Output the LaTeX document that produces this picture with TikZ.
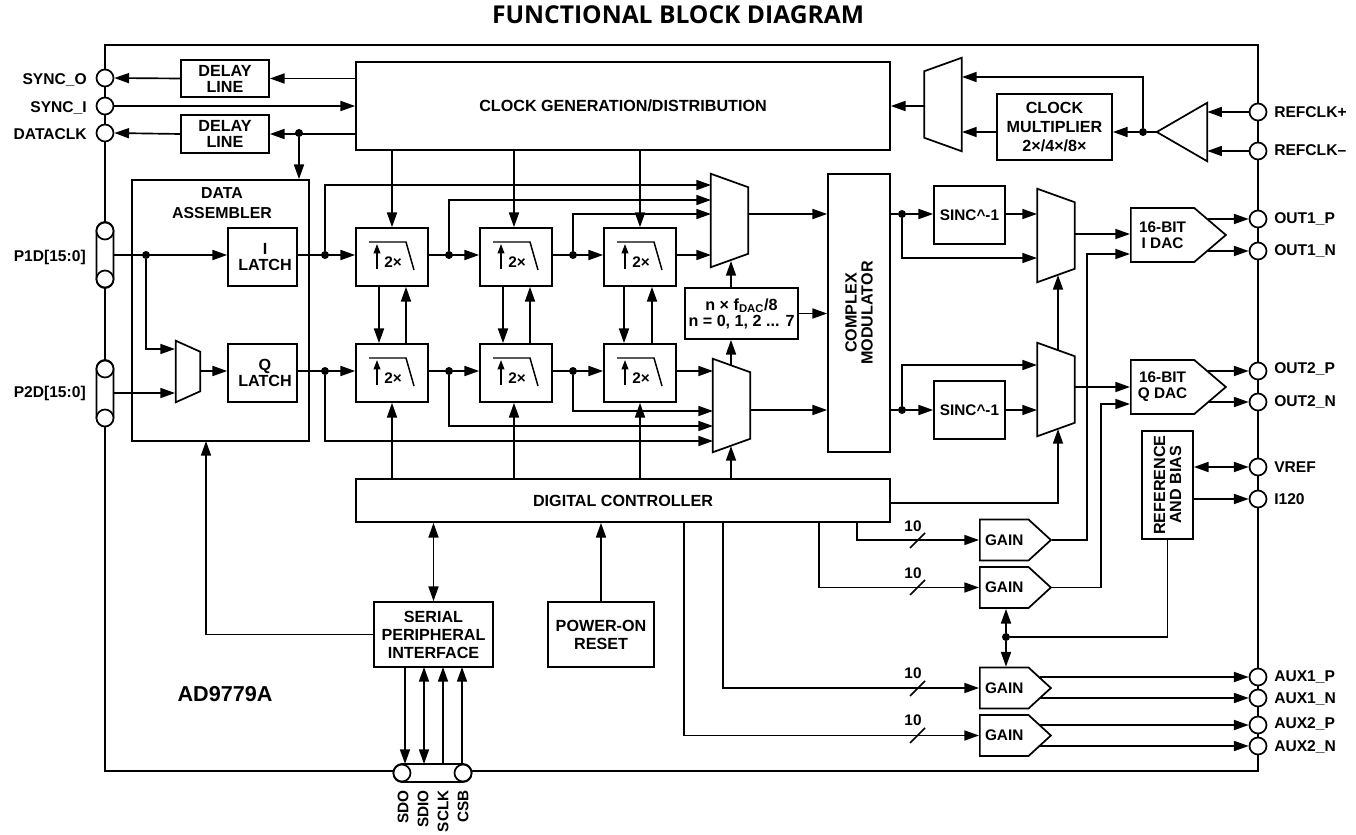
\documentclass[tikz,border=0pt]{standalone}
\usepackage{fontspec}
\setmainfont{Liberation Sans}
\newfontfamily\titlefont{Open Sans}
\usepackage{tikz}
\usetikzlibrary{arrows.meta, shapes.geometric, shapes.symbols, backgrounds}
\newlength{\px}
\setlength{\px}{0.75pt}
\newcommand{\muxshape}[3]{\draw[fill=white, line width=1.3pt] ([yshift=-#2\px]#1.north west) -- ([yshift=-#3\px]#1.north east) -- ([yshift=#3\px]#1.south east) -- ([yshift=#2\px]#1.south west) -- cycle;}
\newcommand{\lowpass}[1]{\begin{scope}[shift={(#1.center)}]
  \draw[line width=1.1pt] (-23,-15) -- (14,-15) -- (22,13);
  \draw[line width=1.1pt, ->, >={Stealth[inset=0pt,length=7pt,width=5pt]}] (-15,12) -- (-15,-13);
\end{scope}}
\newcommand{\twox}{\raisebox{-7.6pt}[0pt][0pt]{\hspace*{2\px}2×}}
\tikzset{
  blockbox/.style={draw, fill=white, line width=1.3pt, inner sep=0pt, align=center, font=\bfseries\fontsize{12.1}{12}\selectfont},
  portdot/.style={circle, draw, fill=white, line width=1.3pt, inner sep=0pt, minimum size=17\px},
  capsule/.style={draw, fill=white, line width=1.3pt, inner sep=0pt, rounded corners=8.5\px},
  junct/.style={circle, fill=black, inner sep=0pt, minimum size=8\px},
  portlbl/.style={inner sep=0pt, text height=8.3pt, text depth=0pt, font=\bfseries\fontsize{11.7}{12}\selectfont},
  muxbox/.style={inner sep=0pt, minimum width=37\px, minimum height=93\px},
  gainbox/.style={draw, fill=white, line width=1.3pt, signal, signal to=east, inner sep=0pt, anchor=west,
    signal pointer angle=85, minimum width=71\px, minimum height=41\px},
  dacbox/.style={gainbox, align=center, signal pointer angle=81, minimum width=95\px, minimum height=54\px},
  wire/.style={line width=1.25pt},
  filterbox/.style={blockbox, font=\bfseries\fontsize{11.5}{12}\selectfont, minimum width=72\px, minimum height=58\px},
}
\begin{document}
\begin{tikzpicture}[x=0.75pt, y=-0.75pt, >={Stealth[inset=0pt,length=11pt,width=7.5pt]},
                    font=\bfseries\fontsize{11.5}{12}\selectfont]
\useasboundingbox (0,0) rectangle (1356,835);
\node[font=\titlefont\bfseries\fontsize{18.45}{20}\selectfont] (title) at (678,15) {FUNCTIONAL BLOCK DIAGRAM};
\node[draw, line width=1.8pt, inner sep=0pt, minimum width=1153\px, minimum height=726\px] (chip) at (681.5,408) {};
\node[font=\bfseries\fontsize{16.2}{18}\selectfont] (partno) at (225,694) {AD9779A};

% left pins
\node[portdot] (syncO) at (105,78) {};
\node[portdot] (syncI) at (105,106) {};
\node[portdot] (dclk) at (105,133) {};
\node[capsule, minimum width=17\px, minimum height=66\px] (p1d) at (105,255) {};
\node[portdot] at (105,231) (p1dA) {};
\node[portdot] at (105,279) (p1dB) {};
\node[capsule, minimum width=17\px, minimum height=66\px] (p2d) at (105,393) {};
\node[portdot] at (105,369) (p2dA) {};
\node[portdot] at (105,418) (p2dB) {};
\node[portlbl, anchor=east] (syncOl) at (87,79) {SYNC\_O};
\node[portlbl, anchor=east] (syncIl) at (87,107) {SYNC\_I};
\node[portlbl, anchor=east] (dclkl) at (87,134) {DATACLK};
\node[portlbl, anchor=east] (p1dl) at (86,256) {P1D[15:0]};
\node[portlbl, anchor=east] (p2dl) at (86,392) {P2D[15:0]};

% right pins
\node[portdot] (refp) at (1258,112) {};
\node[portdot] (refn) at (1258,151) {};
\node[portdot] (out1p) at (1258,219) {};
\node[portdot] (out1n) at (1258,251) {};
\node[portdot] (out2p) at (1258,371) {};
\node[portdot] (out2n) at (1258,402) {};
\node[portdot] (vref) at (1258,467) {};
\node[portdot] (i120) at (1258,499) {};
\node[portdot] (aux1p) at (1258,677) {};
\node[portdot] (aux1n) at (1258,698) {};
\node[portdot] (aux2p) at (1258,725) {};
\node[portdot] (aux2n) at (1258,746) {};
\node[portlbl, anchor=west] (refpl) at (1274,112) {REFCLK+};
\node[portlbl, anchor=west] (refnl) at (1274,150) {REFCLK–};
\node[portlbl, anchor=west] (out1pl) at (1274,218) {OUT1\_P};
\node[portlbl, anchor=west] (out1nl) at (1274,250) {OUT1\_N};
\node[portlbl, anchor=west] (out2pl) at (1274,368) {OUT2\_P};
\node[portlbl, anchor=west] (out2nl) at (1274,401) {OUT2\_N};
\node[portlbl, anchor=west] (vrefl) at (1274,467) {VREF};
\node[portlbl, anchor=west] (i120l) at (1274,499) {I120};
\node[portlbl, anchor=west] (aux1pl) at (1274,676) {AUX1\_P};
\node[portlbl, anchor=west] (aux1nl) at (1274,698) {AUX1\_N};
\node[portlbl, anchor=west] (aux2pl) at (1274,723) {AUX2\_P};
\node[portlbl, anchor=west] (aux2nl) at (1274,746) {AUX2\_N};

% bottom pins
\node[capsule, minimum width=78\px, minimum height=18\px] (spipins) at (432.5,773) {};
\node[portdot] (sdoP) at (402,773) {};
\node[portdot] (csbP) at (463,773) {};
\node[rotate=90, anchor=east, inner sep=0pt] (sdol) at (403,790) {SDO};
\node[rotate=90, anchor=east, inner sep=0pt] (sdiol) at (423,790) {SDIO};
\node[rotate=90, anchor=east, inner sep=0pt] (sclkl) at (443,790) {SCLK};
\node[rotate=90, anchor=east, inner sep=0pt] (csbl) at (463,790) {CSB};

% blocks
\node[blockbox, minimum width=88\px, minimum height=37\px] (dl1) at (225,78.5) {DELAY\\LINE};
\node[blockbox, minimum width=88\px, minimum height=38\px] (dl2) at (225,134) {DELAY\\LINE};
\node[blockbox, minimum width=534\px, minimum height=88\px] (clkgen) at (623,106) {CLOCK GENERATION/DISTRIBUTION};
\node[blockbox, minimum width=115\px, minimum height=66\px] (clkmul) at (1054.5,127) {CLOCK\\[2pt]MULTIPLIER\\[2pt]2×/4×/8×};
\node[blockbox, minimum width=177\px, minimum height=261\px] (dasm) at (220.5,310.5) {};
\node[inner sep=0pt, align=center, font=\bfseries\fontsize{11.9}{12}\selectfont] (dasml) at (222,203) {DATA\\[3pt]ASSEMBLER};
\node[blockbox, minimum width=69\px, minimum height=58\px] (ilatch) at (262.5,257) {\hspace*{5\px}I\\\hspace*{5\px}LATCH};
\node[blockbox, minimum width=69\px, minimum height=58\px] (qlatch) at (262.5,373) {\hspace*{5\px}Q\\\hspace*{5\px}LATCH};
\node[filterbox] (flt11) at (392,257) {\twox};
\node[filterbox] (flt12) at (516,257) {\twox};
\node[filterbox] (flt13) at (640,257) {\twox};
\node[filterbox] (flt21) at (392,373) {\twox};
\node[filterbox] (flt22) at (516,373) {\twox};
\node[filterbox] (flt23) at (640,373) {\twox};
\lowpass{flt11}
\lowpass{flt12}
\lowpass{flt13}
\lowpass{flt21}
\lowpass{flt22}
\lowpass{flt23}
\node[blockbox, minimum width=113\px, minimum height=51\px] (nco) at (741.5,313.5) {n × f\textsubscript{DAC}/8\\n = 0, 1, 2 ... 7};
\node[blockbox, rotate=90, minimum width=278\px, minimum height=62\px] (cmod) at (859,313) {COMPLEX\\MODULATOR};
\node[blockbox, font=\bfseries\fontsize{11.5}{12}\selectfont, minimum width=71\px, minimum height=58\px] (sinc1) at (969.5,215) {SINC\textasciicircum-1};
\node[blockbox, font=\bfseries\fontsize{11.5}{12}\selectfont, minimum width=71\px, minimum height=58\px] (sinc2) at (969.5,410) {SINC\textasciicircum-1};
\node[blockbox, minimum width=534\px, minimum height=43\px] (digctl) at (623,500.5) {DIGITAL CONTROLLER};
\node[blockbox, minimum width=119\px, minimum height=65\px] (spi) at (433.5,634.5) {SERIAL\\[1.5pt]PERIPHERAL\\[1.5pt]INTERFACE};
\node[blockbox, minimum width=106\px, minimum height=65\px] (por) at (601,634.5) {POWER-ON\\[1.5pt]RESET};
\node[blockbox, rotate=90, minimum width=108\px, minimum height=51\px] (refbias) at (1167.5,485) {REFERENCE\\AND BIAS};

% muxes and the input buffer
\node[muxbox, minimum width=24\px, minimum height=61\px] (muxq) at (188,371.5) {};
\muxshape{muxq}{0}{11}
\node[muxbox] (mux1) at (729.5,220.5) {};
\muxshape{mux1}{0}{13.5}
\node[muxbox] (mux2) at (731.5,405.5) {};
\muxshape{mux2}{0}{13.5}
\node[muxbox] (mux3) at (1056,235.5) {};
\muxshape{mux3}{0}{13.5}
\node[muxbox] (mux4) at (1056,389.5) {};
\muxshape{mux4}{0}{13.5}
\node[muxbox] (muxclk) at (943,104.5) {};
\muxshape{muxclk}{13.5}{0}
\node[inner sep=0pt, minimum width=50\px, minimum height=58\px] (refbuf) at (1182,132) {};
\draw[fill=white, line width=1.3pt] (refbuf.west) -- (refbuf.north east) -- (refbuf.south east) -- cycle;

% DACs and gain stages
\node[dacbox] (dac1) at (1130,235) {16-BIT\\I DAC};
\node[dacbox] (dac2) at (1130,387) {16-BIT\\Q DAC};
\node[gainbox] (gain1) at (979,540) {GAIN};
\node[gainbox] (gain2) at (979,587.5) {GAIN};
\node[gainbox] (gain3) at (979,688) {GAIN};
\node[gainbox] (gain4) at (979,735.5) {GAIN};
\node[inner sep=0pt] (bus1) at (913,526) {10};
\node[inner sep=0pt] (bus2) at (913,573) {10};
\node[inner sep=0pt] (bus3) at (913,673) {10};
\node[inner sep=0pt] (bus4) at (913,720) {10};

% junctions
\node[junct] (jclk) at (299,133) {};
\node[junct] (jp1) at (146,255) {};
\node[junct] (jI0) at (325,255) {};
\node[junct] (jI1) at (449,255) {};
\node[junct] (jI2) at (573,255) {};
\node[junct] (jQ0) at (325,371) {};
\node[junct] (jQ1) at (449,371) {};
\node[junct] (jQ2) at (573,371) {};
\node[junct] (jref) at (1143,132) {};
\node[junct] (jS1) at (902,214) {};
\node[junct] (jS2) at (902,410) {};
\node[junct] (jbias) at (1006,637) {};

% free ends
\coordinate (m1a) at (711,185);
\coordinate (m1b) at (711,200);
\coordinate (m1c) at (711,214);
\coordinate (m1d) at (711,255);
\coordinate (m1o) at (748,214);
\coordinate (m1n) at (731,261);
\coordinate (m2a) at (713,371);
\coordinate (m2b) at (713,411);
\coordinate (m2c) at (713,426);
\coordinate (m2d) at (713,441);
\coordinate (m2o) at (750,410);
\coordinate (m2t) at (731,366);
\coordinate (m2n) at (731,446);
\coordinate (m3a) at (1037,214);
\coordinate (m3b) at (1037,258);
\coordinate (m3o) at (1075,234);
\coordinate (m3n) at (1058,275);
\coordinate (m4a) at (1037,365);
\coordinate (m4b) at (1037,410);
\coordinate (m4o) at (1075,387);
\coordinate (m4t) at (1058,350);
\coordinate (m4n) at (1058,429);
\coordinate (mcA) at (962,77);
\coordinate (mcB) at (962,132);
\coordinate (mcO) at (924,106);
\coordinate (qA) at (175,349);
\coordinate (qB) at (175,393);
\coordinate (qO) at (200,371);
\coordinate (d1b) at (1130,254);
\coordinate (d2b) at (1130,404);
\coordinate (d1p) at (1208,219);
\coordinate (d1n) at (1208,251);
\coordinate (d2p) at (1208,371);
\coordinate (d2n) at (1208,402);
\coordinate (g3p) at (1040,677);
\coordinate (g3n) at (1040,698);
\coordinate (g4p) at (1040,725);
\coordinate (g4n) at (1040,746);
\coordinate (ctlR) at (890,503);
\coordinate (spiUp) at (206,441);
\coordinate (t1) at (857,522);
\coordinate (t2) at (819,522);
\coordinate (t3) at (723,522);
\coordinate (t4) at (684,522);
\coordinate (s1) at (405,667);
\coordinate (s2) at (424,667);
\coordinate (s3) at (443,667);
\coordinate (s4) at (462,667);
\coordinate (p1) at (405,764);
\coordinate (p2) at (424,764);
\coordinate (p3) at (443,764);
\coordinate (p4) at (462,764);

% clocks
\begin{scope}[wire]
  \path[draw, ->] (dl1.east -| clkgen.west) -- (dl1.east);
  \path[draw, ->] (dl1.west) -- (syncO.east);
  \path[draw, ->] (syncI.east) -- (syncI.east -| clkgen.west);
  \path[draw, ->] (dl2.east -| clkgen.west) -- (dl2.east);
  \path[draw, ->] (dl2.west) -- (dclk.east);
  \path[draw, ->] (jclk) -- (jclk |- dasm.north);
  \path[draw, ->] (flt11.north |- clkgen.south) -- (flt11.north);
  \path[draw, ->] ([xshift=-2\px]flt12.north |- clkgen.south) -- ([xshift=-2\px]flt12.north);
  \path[draw, ->] (flt13.north |- clkgen.south) -- (flt13.north);
  \path[draw, ->] (mcO) -- (mcO -| clkgen.east);
  \path[draw, ->] (jref) |- (mcA);
  \path[draw, ->] (clkmul.west |- mcB) -- (mcB);
  \path[draw, ->] (jref) -- (jref -| clkmul.east);
  \path[draw] (refbuf.west) -- (jref);
  \path[draw, ->] (refp.west) -- (refp.west -| refbuf.east);
  \path[draw, ->] (refn.west) -- (refn.west -| refbuf.east);
\end{scope}

% data path
\begin{scope}[wire]
  \path[draw, ->] (p1d.east) -- (ilatch.west |- p1d.east);
  \path[draw, ->] (jp1) |- (qA);
  \path[draw, ->] (qB -| p2d.east) -- (qB);
  \path[draw, ->] (qO) -- (qO -| qlatch.west);
  \path[draw, ->] (ilatch.east |- jI0) -- (flt11.west |- jI0);
  \path[draw, ->] (qlatch.east |- jQ0) -- (flt21.west |- jQ0);
  \path[draw, ->] (flt11.east |- jI1) -- (flt12.west |- jI1);
  \path[draw, ->] (flt12.east |- jI2) -- (flt13.west |- jI2);
  \path[draw, ->] (flt21.east |- jQ1) -- (flt22.west |- jQ1);
  \path[draw, ->] (flt22.east |- jQ2) -- (flt23.west |- jQ2);
  \path[draw, ->] (flt13.east |- m1d) -- (m1d);
  \path[draw, ->] (flt23.east |- m2a) -- (m2a);
  \path[draw, ->] (jI0) |- (m1a);
  \path[draw, ->] (jI1) |- (m1b);
  \path[draw, ->] (jI2) |- (m1c);
  \path[draw, ->] (jQ0) |- (m2d);
  \path[draw, ->] (jQ1) |- (m2c);
  \path[draw, ->] (jQ2) |- (m2b);
  \path[draw, ->] ([xshift=-13\px]flt11.south) -- ([xshift=-13\px]flt21.north);
  \path[draw, ->] ([xshift=14\px]flt21.north) -- ([xshift=14\px]flt11.south);
  \path[draw, ->] ([xshift=-13\px]flt12.south) -- ([xshift=-13\px]flt22.north);
  \path[draw, ->] ([xshift=14\px]flt22.north) -- ([xshift=14\px]flt12.south);
  \path[draw, ->] ([xshift=-16\px]flt13.south) -- ([xshift=-16\px]flt23.north);
  \path[draw, ->] ([xshift=12\px]flt23.north) -- ([xshift=12\px]flt13.south);
  \path[draw, ->] (nco.north -| m1n) -- (m1n);
  \path[draw, ->] (m2t) -- (nco.south -| m2t);
  \path[draw, ->] (nco.east) -- (nco.east -| cmod.north);
  \path[draw, ->] (m1o) -- (m1o -| cmod.north);
  \path[draw, ->] (m2o) -- (m2o -| cmod.north);
  \path[draw] (jS1 -| cmod.south) -- (jS1);
  \path[draw] (jS2 -| cmod.south) -- (jS2);
  \path[draw, ->] (jS1) -- (jS1 -| sinc1.west);
  \path[draw, ->] (jS2) -- (jS2 -| sinc2.west);
  \path[draw, ->] (sinc1.east |- m3a) -- (m3a);
  \path[draw, ->] (sinc2.east |- m4b) -- (m4b);
  \path[draw, ->] (jS1) |- (m3b);
  \path[draw, ->] (jS2) |- (m4a);
  \path[draw, ->] (m4t) -- (m3n);
  \path[draw, ->] (m3o) -- (m3o -| dac1.west);
  \path[draw, ->] (m4o) -- (m4o -| dac2.west);
  \path[draw, ->] (d1p) -- (out1p.west);
  \path[draw, ->] (d1n) -- (out1n.west);
  \path[draw, ->] (d2p) -- (out2p.west);
  \path[draw, ->] (d2n) -- (out2n.west);
\end{scope}

% control
\begin{scope}[wire]
  \path[draw, ->] (flt21.south |- digctl.north) -- (flt21.south);
  \path[draw, ->] ([xshift=-2\px]flt22.south |- digctl.north) -- ([xshift=-2\px]flt22.south);
  \path[draw, ->] (flt23.south |- digctl.north) -- (flt23.south);
  \path[draw, ->] (m2n |- digctl.north) -- (m2n);
  \path[draw, ->] (ctlR) -| (m4n);
  \path[draw, <->] (spi.north) -- (spi.north |- digctl.south);
  \path[draw, ->] (por.north) -- (por.north |- digctl.south);
  \path[draw, ->] (spi.west) -| (spiUp);
  \path[draw, ->] (s1) -- (p1);
  \path[draw, <->] (s2) -- (p2);
  \path[draw, ->] (p3) -- (s3);
  \path[draw, ->] (p4) -- (s4);
  \path[draw, ->] (t1) |- (gain1.west);
  \path[draw, ->] (t2) |- (gain2.west);
  \path[draw, ->] (t3) |- (gain3.west);
  \path[draw, ->] (t4) |- (gain4.west);
  \path[draw] (910,548) -- (925,533);
  \path[draw] (910,595) -- (925,580);
  \path[draw] (910,696) -- (925,681);
  \path[draw] (910,743) -- (925,728);
  \path[draw, ->] (gain1.east) -| (d1b -| 1087,0) -- (d1b);
  \path[draw, ->] (gain2.east) -| (d2b -| 1101,0) -- (d2b);
  \path[draw, <->] (refbias.south |- vref) -- (vref.west);
  \path[draw, ->] (refbias.south |- i120) -- (i120.west);
  \path[draw] (refbias.west) |- (jbias);
  \path[draw, ->] (jbias) -- (jbias |- gain2.south);
  \path[draw, ->] (jbias) -- (jbias |- gain3.north);
  \path[draw, ->] (g3p) -- (aux1p.west);
  \path[draw, ->] (g3n) -- (aux1n.west);
  \path[draw, ->] (g4p) -- (aux2p.west);
  \path[draw, ->] (g4n) -- (aux2n.west);
\end{scope}
\end{tikzpicture}
\end{document}
